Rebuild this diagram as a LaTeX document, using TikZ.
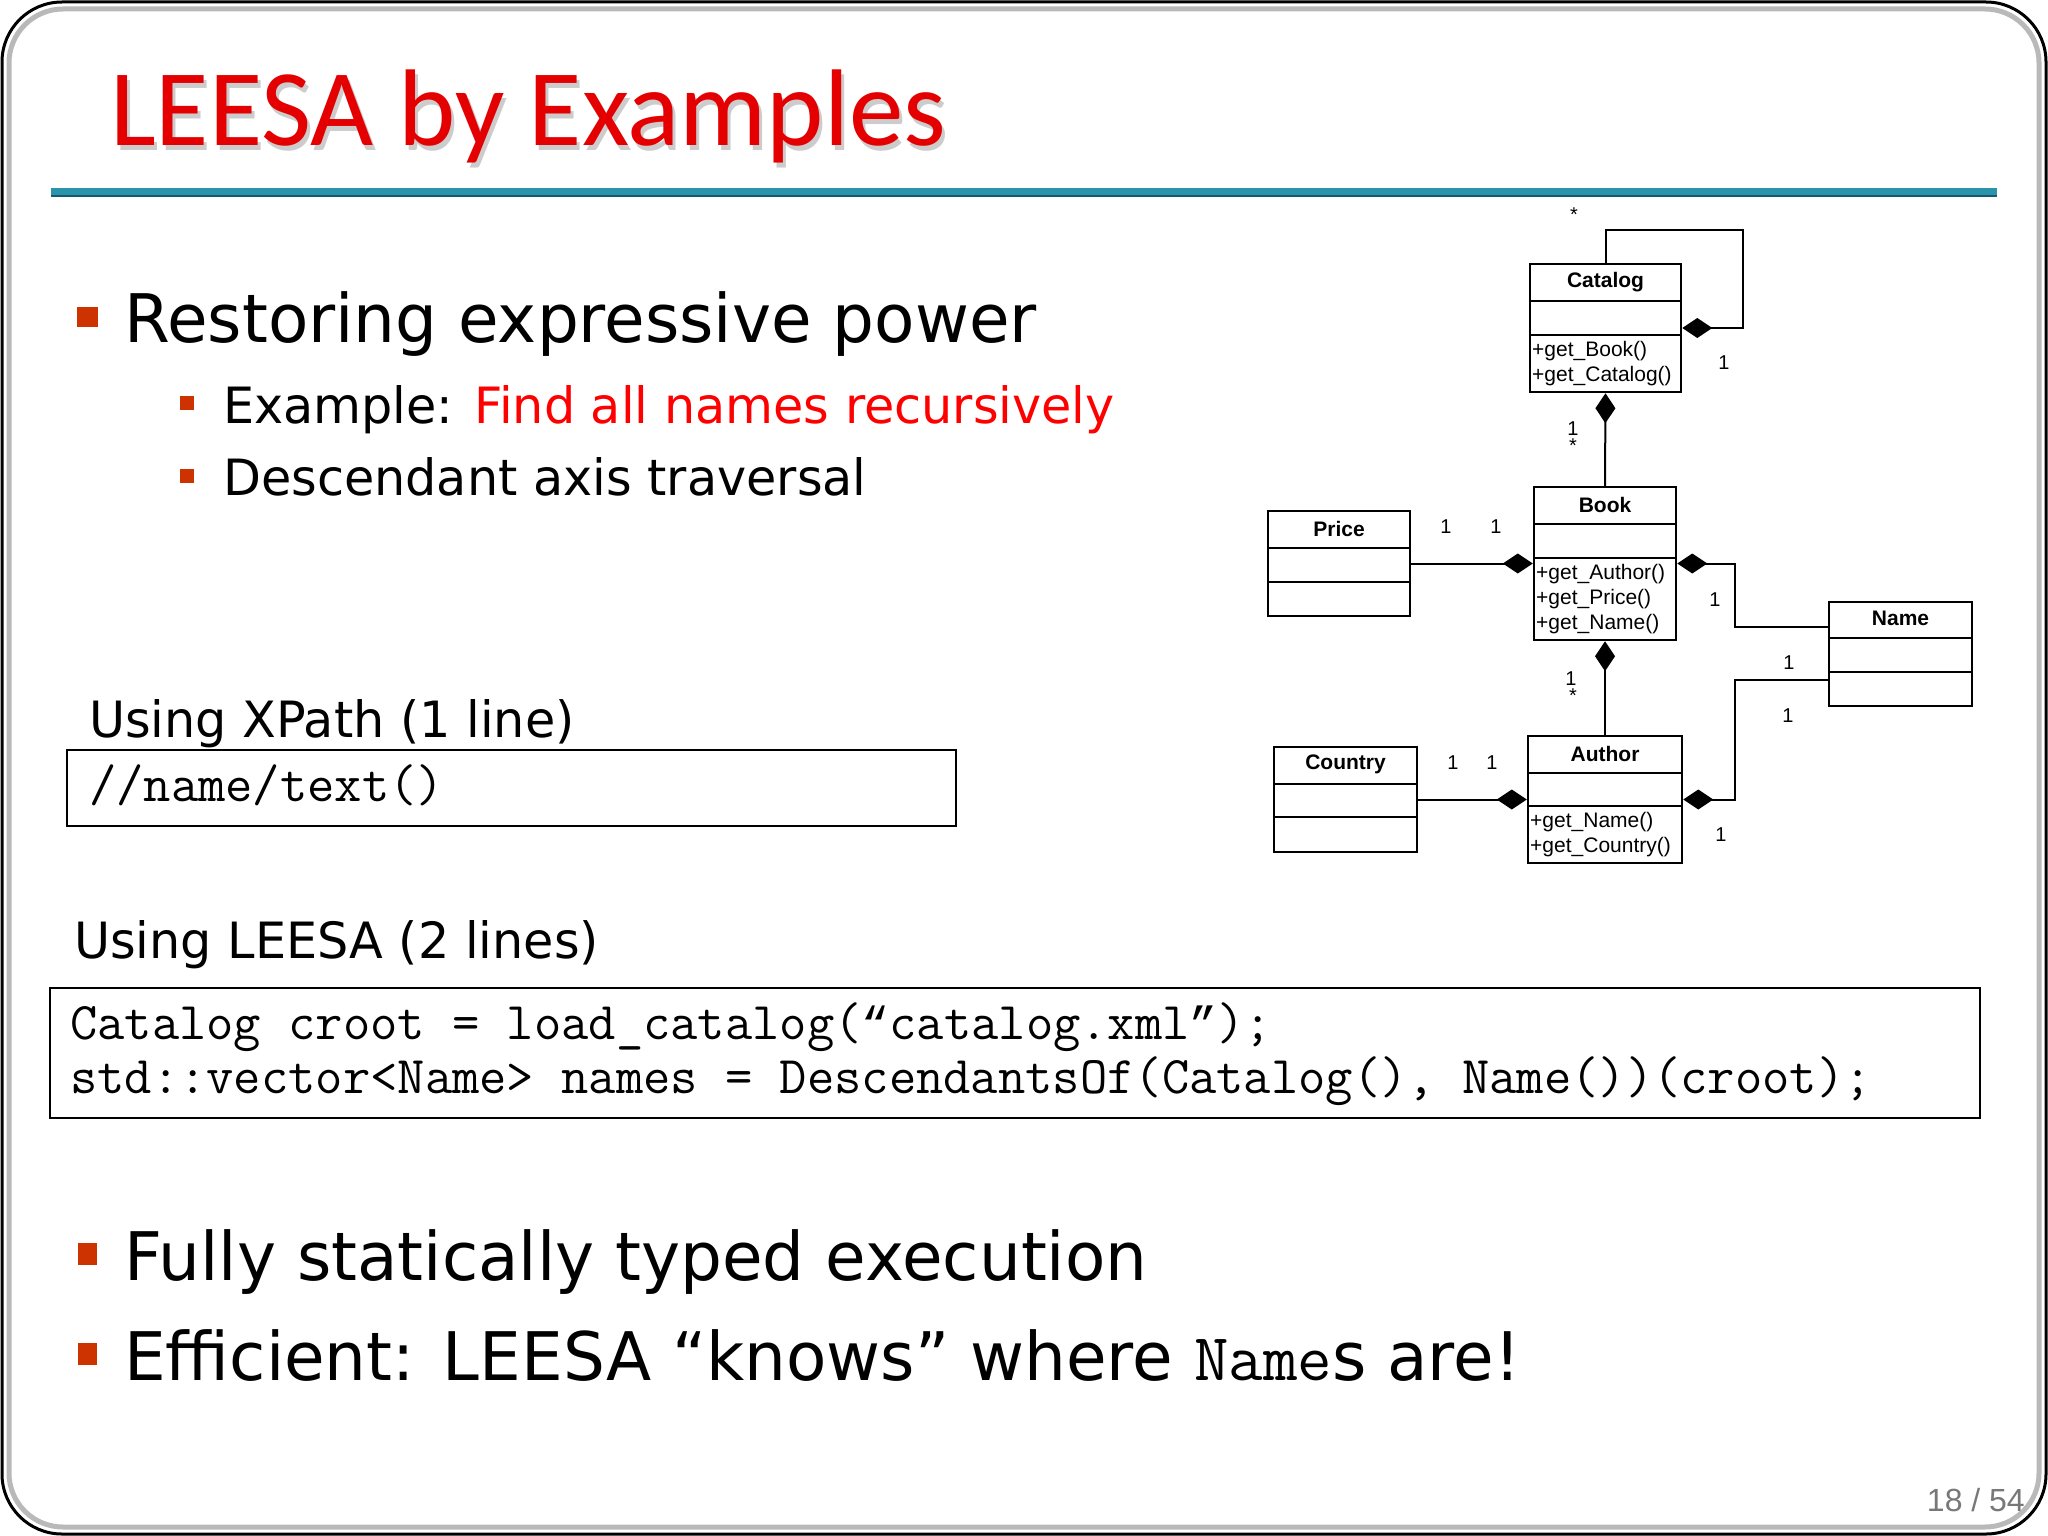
\documentclass[tikz,border=0pt]{standalone}
\usepackage{fontspec}
\setmainfont{DejaVu Sans}[FakeStretch=0.985]
\newfontfamily\titlefont{Carlito}
\newfontfamily\umlfont{Liberation Sans}
\newfontfamily\quotefont{Liberation Mono}
\usetikzlibrary{arrows.meta,positioning}

\definecolor{titlered}{RGB}{228,0,0}
\definecolor{bulletred}{RGB}{204,51,0}
\definecolor{rulecol}{RGB}{44,148,170}
\definecolor{ruledark}{RGB}{20,90,110}
\definecolor{pagegray}{RGB}{120,120,120}

\newcommand{\cq}[1]{{\quotefont\fontsize{46.4}{56}\selectfont #1}}

\tikzset{
  txt/.style={inner sep=0pt, anchor=base west},
  lvlone/.style={txt, font=\fontsize{67}{80}\selectfont},
  lvltwo/.style={txt, font=\fontsize{50}{60}\selectfont},
  code/.style={txt, font=\ttfamily\fontsize{53}{56}\selectfont},
  umlclass/.style={draw, line width=2.5pt, inner sep=0pt},
  umltitle/.style={font=\umlfont\bfseries\fontsize{21}{25}\selectfont, inner sep=0pt},
  umlops/.style={font=\umlfont\fontsize{21}{25}\selectfont, inner sep=0pt, anchor=west, align=left},
  mult/.style={font=\umlfont\fontsize{20}{24}\selectfont, inner sep=0pt},
  comp/.style={line width=2pt, -{Diamond[length=30pt,width=20pt]}},
  sep/.style={line width=2.5pt}
}

\begin{document}
\begin{tikzpicture}[x=1pt, y=-1pt]
    \useasboundingbox (0,0) rectangle (2048,1536);
    \fill[white] (0,0) rectangle (2048,1536);

    % Slide frame
    \draw[gray!55, line width=5pt, rounded corners=54pt] (9,9) rectangle (2039,1527);
    \draw[black, line width=3pt, rounded corners=60pt] (2,2) rectangle (2046,1534);

    % Title with shadow and rule
    \node[txt, font=\titlefont\fontsize{109}{120}\selectfont, text=gray!40] (titleShadow) at (113,150) {LEESA by Examples};
    \node[txt, font=\titlefont\fontsize{109}{120}\selectfont, text=titlered] (title) at (110,146) {LEESA by Examples};
    \draw[rulecol, line width=8pt] (51,192) -- (1997,192);
    \draw[ruledark, line width=1.5pt] (51,196) -- (1997,196);

    % First bullet block
    \fill[bulletred] (77,307) rectangle (98,327);
    \node[lvlone] (restore) at (124,342) {Restoring expressive power};
    \fill[bulletred] (180,396) rectangle (194,410);
    \node[lvltwo] (example) at (223,423) {Example: \textcolor{red}{Find all names recursively}};
    \fill[bulletred] (180,469) rectangle (194,483);
    \node[lvltwo] (descend) at (223,495) {Descendant axis traversal};

    % XPath version
    \node[lvltwo] (xpathHead) at (89,737) {Using XPath (1 line)};
    \draw[line width=2pt] (67,750) rectangle (956,826);
    \node[txt, font=\ttfamily\fontsize{53}{56}\selectfont] (xpathCode) at (89,801) {//name/text()};

    % LEESA version
    \node[lvltwo] (leesaHead) at (74,958) {Using LEESA (2 lines)};
    \draw[line width=2pt] (50,988) rectangle (1980,1118);
    \node[code] (codeOne) at (70,1039) {Catalog croot = load\_catalog(\cq{“}catalog.xml\cq{”});};
    \node[code] (codeTwo) at (70,1093) {std::vector<Name> names = DescendantsOf(Catalog(), Name())(croot);};

    % Closing bullets
    \fill[bulletred] (78,1243) rectangle (97,1265);
    \node[lvlone] (typed) at (124,1280) {Fully statically typed execution};
    \fill[bulletred] (78,1343) rectangle (97,1365);
    \node[lvlone] (efficient) at (124,1380) {Efficient: LEESA “knows” where \texttt{Name}s are!};

    % Page number
    \node[inner sep=0pt, anchor=base east, font=\umlfont\fontsize{32}{36}\selectfont, text=pagegray] (pageNum) at (2025,1511) {18 / 54};

    % UML class boxes
    \node[umlclass, minimum width=151pt, minimum height=128pt] (catalogBox) at (1605.5,328) {};
    \node[umlclass, minimum width=142pt, minimum height=153pt] (bookBox) at (1605,563.5) {};
    \node[umlclass, minimum width=142pt, minimum height=105pt] (priceBox) at (1339,563.5) {};
    \node[umlclass, minimum width=143pt, minimum height=104pt] (nameBox) at (1900.5,654) {};
    \node[umlclass, minimum width=154pt, minimum height=127pt] (authorBox) at (1605,799.5) {};
    \node[umlclass, minimum width=143pt, minimum height=105pt] (countryBox) at (1345.5,799.5) {};

    % Compartment lines
    \draw[sep] ([yshift=-38pt]catalogBox.north west) -- ([yshift=-38pt]catalogBox.north east);
    \draw[sep] ([yshift=-72pt]catalogBox.north west) -- ([yshift=-72pt]catalogBox.north east);
    \draw[sep] ([yshift=-38pt]bookBox.north west) -- ([yshift=-38pt]bookBox.north east);
    \draw[sep] ([yshift=-72pt]bookBox.north west) -- ([yshift=-72pt]bookBox.north east);
    \draw[sep] ([yshift=-38pt]priceBox.north west) -- ([yshift=-38pt]priceBox.north east);
    \draw[sep] ([yshift=-72pt]priceBox.north west) -- ([yshift=-72pt]priceBox.north east);
    \draw[sep] ([yshift=-37pt]nameBox.north west) -- ([yshift=-37pt]nameBox.north east);
    \draw[sep] ([yshift=-71pt]nameBox.north west) -- ([yshift=-71pt]nameBox.north east);
    \draw[sep] ([yshift=-38pt]authorBox.north west) -- ([yshift=-38pt]authorBox.north east);
    \draw[sep] ([yshift=-71pt]authorBox.north west) -- ([yshift=-71pt]authorBox.north east);
    \draw[sep] ([yshift=-38pt]countryBox.north west) -- ([yshift=-38pt]countryBox.north east);
    \draw[sep] ([yshift=-71pt]countryBox.north west) -- ([yshift=-71pt]countryBox.north east);

    % Class names
    \node[umltitle] (catalogTitle) at ([yshift=-19pt]catalogBox.north) {Catalog};
    \node[umltitle] (bookTitle) at ([yshift=-19pt]bookBox.north) {Book};
    \node[umltitle] (priceTitle) at ([yshift=-19pt]priceBox.north) {Price};
    \node[umltitle] (nameTitle) at ([yshift=-18pt]nameBox.north) {Name};
    \node[umltitle] (authorTitle) at ([yshift=-19pt]authorBox.north) {Author};
    \node[umltitle] (countryTitle) at ([yshift=-19pt]countryBox.north) {Country};

    % Operations
    \node[umlops] (catalogOps) at (1532,364) {+get\_Book()\\+get\_Catalog()};
    \node[umlops] (bookOps) at (1536,599.5) {+get\_Author()\\+get\_Price()\\+get\_Name()};
    \node[umlops] (authorOps) at (1530,835) {+get\_Name()\\+get\_Country()};

    % Composition links
    \draw[comp] (catalogBox.north) |- ++(137,-33) |- (catalogBox.east);
    \draw[comp] (bookBox.north) -- (catalogBox.south);
    \draw[comp] (priceBox.east) -- (bookBox.west);
    \draw[comp] ([yshift=27pt]nameBox.west) -- ++(-93,0) |- (bookBox.east);
    \draw[comp] (authorBox.north) -- (bookBox.south);
    \draw[comp] (countryBox.east) -- (authorBox.west);
    \draw[comp] ([yshift=-26pt]nameBox.west) -- ++(-93,0) |- (authorBox.east);

    % Multiplicities
    \node[mult] (loopStar) at (1574,215) {*};
    \node[mult] (loopOne) at (1724,363) {1};
    \node[mult, anchor=south] (bookUpOne) at (1573,436) {1};
    \node[mult, anchor=north] (bookUpStar) at (1573,439) {*};
    \node[mult] (priceOne) at (1446,527) {1};
    \node[mult] (priceBookOne) at (1496,527) {1};
    \node[mult] (bookNameOne) at (1715,600) {1};
    \node[mult, anchor=south] (authUpOne) at (1571,686) {1};
    \node[mult, anchor=north] (authUpStar) at (1573,689) {*};
    \node[mult] (countryOne) at (1453,763) {1};
    \node[mult] (countryAuthOne) at (1492,763) {1};
    \node[mult] (nameUpperOne) at (1789,663) {1};
    \node[mult] (nameLowerOne) at (1788,716) {1};
    \node[mult] (authNameOne) at (1721,835) {1};
\end{tikzpicture}
\end{document}
